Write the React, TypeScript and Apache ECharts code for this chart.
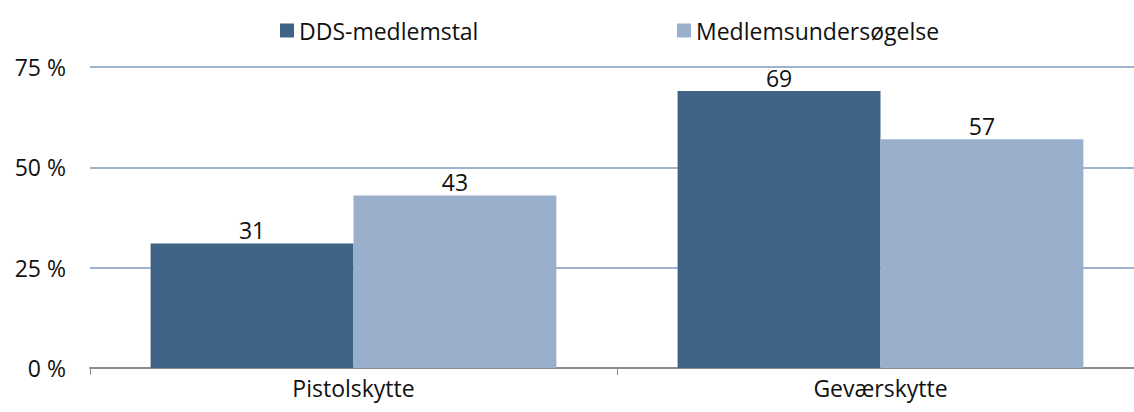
import React, { useEffect, useRef } from "react";
import * as echarts from "echarts";

const categories = ["Pistolskytte", "Geværskytte"];
const seriesNames = ["DDS-medlemstal", "Medlemsundersøgelse"];
const ddsValues = [31, 69];
const surveyValues = [43, 57];
const yTicks = [0, 25, 50, 75];

const FONT = "'Open Sans', 'DejaVu Sans', sans-serif";
const FS = 23;

export default function App() {
  const ref = useRef<HTMLDivElement>(null);
  useEffect(() => {
    if (!ref.current) return;
    const chart = echarts.init(ref.current, undefined, { renderer: "svg" });
    chart.setOption({
      animation: false,
      textStyle: { fontFamily: FONT },
      legend: [
        {
          data: [seriesNames[0]],
          left: 275,
          top: 14,
          itemWidth: 14,
          itemHeight: 14,
          itemGap: 6,
          icon: "rect",
          textStyle: { fontSize: FS, color: "#111", fontFamily: FONT },
        },
        {
          data: [seriesNames[1]],
          left: 672,
          top: 14,
          itemWidth: 14,
          itemHeight: 14,
          icon: "rect",
          textStyle: { fontSize: FS, color: "#111", fontFamily: FONT },
        },
      ],
      grid: { left: 90, right: 0, top: 67, bottom: 44, containLabel: false },
      xAxis: {
        type: "category",
        data: categories,
        axisLine: { lineStyle: { color: "#8c8c8c", width: 2 } },
        axisTick: { show: true, length: 7, lineStyle: { color: "#8c8c8c", width: 1 } },
        axisLabel: { fontSize: FS, color: "#111", margin: 8, fontFamily: FONT },
      },
      yAxis: {
        type: "value",
        min: yTicks[0],
        max: yTicks[yTicks.length - 1],
        interval: 25,
        axisLine: { show: false },
        axisTick: { show: false },
        axisLabel: {
          fontSize: FS,
          color: "#111",
          margin: 24,
          fontFamily: FONT,
          formatter: (v: number) => `${v} %`,
        },
        splitLine: { lineStyle: { color: "#9fb3cf", width: 2 } },
      },
      series: [
        {
          name: seriesNames[0],
          type: "bar",
          data: ddsValues,
          barGap: "0%",
          barCategoryGap: "23%",
          itemStyle: { color: "#3f6384" },
          label: { show: true, position: "top", fontSize: FS, color: "#111", distance: 2, fontFamily: FONT },
        },
        {
          name: seriesNames[1],
          type: "bar",
          data: surveyValues,
          barGap: "0%",
          barCategoryGap: "23%",
          itemStyle: { color: "#9aafcb" },
          label: { show: true, position: "top", fontSize: FS, color: "#111", distance: 2, fontFamily: FONT },
        },
      ],
    });
    return () => chart.dispose();
  }, []);
  return (
    <div style={{ position: "fixed", left: 0, top: 0, width: 1134, height: 412, overflow: "hidden", background: "#fff" }}>
      <div ref={ref} style={{ width: 1144, height: 412 }} />
    </div>
  );
}
